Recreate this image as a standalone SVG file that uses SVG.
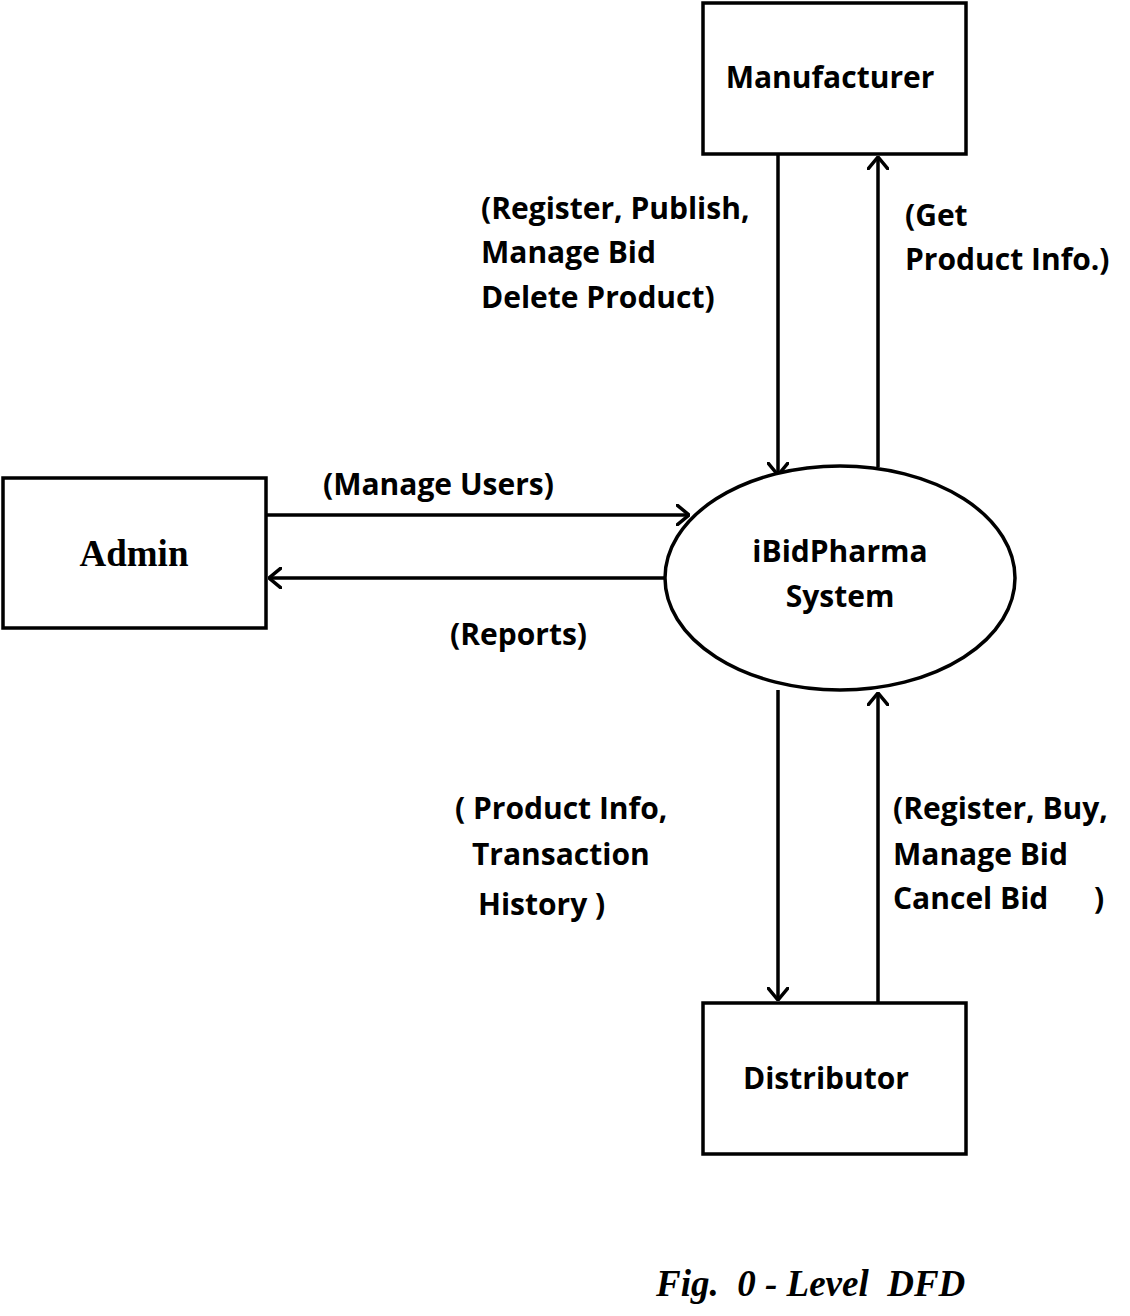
<svg xmlns="http://www.w3.org/2000/svg" width="1130" height="1316" viewBox="0 0 1130 1316">
<style>
.box{fill:#fff;stroke:#000;stroke-width:3.5}
.ln{fill:none;stroke:#000;stroke-width:3.5}
.t{font-family:"Open Sans",Lato,sans-serif;font-weight:bold;font-size:30px;fill:#000}
.c{text-anchor:middle}
.s{font-family:"Liberation Serif",serif;font-weight:bold;font-size:37px;fill:#000}
.cap{font-family:"Liberation Serif",serif;font-weight:bold;font-style:italic;font-size:37px;fill:#000}
</style>
<defs>
<marker id="ah" viewBox="0 0 14 22" refX="13" refY="11" markerWidth="14" markerHeight="22" markerUnits="userSpaceOnUse" orient="auto">
<path d="M1,1 L13,11 L1,21" fill="none" stroke="#000" stroke-width="3.5" stroke-linecap="round" stroke-linejoin="round"/>
</marker>
</defs>
<rect width="1130" height="1316" fill="#fff"/>
<g id="connectors">
<line class="ln" x1="778" y1="154" x2="778" y2="475" marker-end="url(#ah)"/>
<line class="ln" x1="878" y1="467" x2="878" y2="157" marker-end="url(#ah)"/>
<line class="ln" x1="266" y1="515" x2="689" y2="515" marker-end="url(#ah)"/>
<line class="ln" x1="665" y1="578" x2="269" y2="578" marker-end="url(#ah)"/>
<line class="ln" x1="778" y1="690" x2="778" y2="1000" marker-end="url(#ah)"/>
<line class="ln" x1="878" y1="1003" x2="878" y2="693" marker-end="url(#ah)"/>
</g>
<g id="manufacturer">
<rect class="box" x="703" y="3" width="263" height="151"/>
<text class="t c" x="830" y="88">Manufacturer</text>
</g>
<g id="admin">
<rect class="box" x="3" y="478" width="263" height="150"/>
<text class="s c" x="134" y="566">Admin</text>
</g>
<g id="distributor">
<rect class="box" x="703" y="1003" width="263" height="151"/>
<text class="t c" x="826" y="1089">Distributor</text>
</g>
<g id="system">
<ellipse class="box" cx="840" cy="578" rx="175" ry="112"/>
<text class="t c" x="840" y="562">iBidPharma</text>
<text class="t c" x="840" y="607">System</text>
</g>
<g id="labels">
<text class="t" x="481" y="219">(Register, Publish,</text>
<text class="t" x="481" y="263">Manage Bid</text>
<text class="t" x="481" y="308">Delete Product)</text>
<text class="t" x="905" y="226">(Get</text>
<text class="t" x="905" y="270">Product Info.)</text>
<text class="t" x="323" y="495">(Manage Users)</text>
<text class="t" x="450" y="645">(Reports)</text>
<text class="t" x="455" y="819">( Product Info,</text>
<text class="t" x="472" y="865">Transaction</text>
<text class="t" x="478" y="915">History )</text>
<text class="t" x="893" y="819">(Register, Buy,</text>
<text class="t" x="893" y="865">Manage Bid</text>
<text class="t" x="893" y="909">Cancel  Bid</text>
<text class="t" x="1094" y="909">)</text>
</g>
<text class="cap" x="656" y="1296" xml:space="preserve">Fig.  0 - Level  DFD</text>
</svg>
